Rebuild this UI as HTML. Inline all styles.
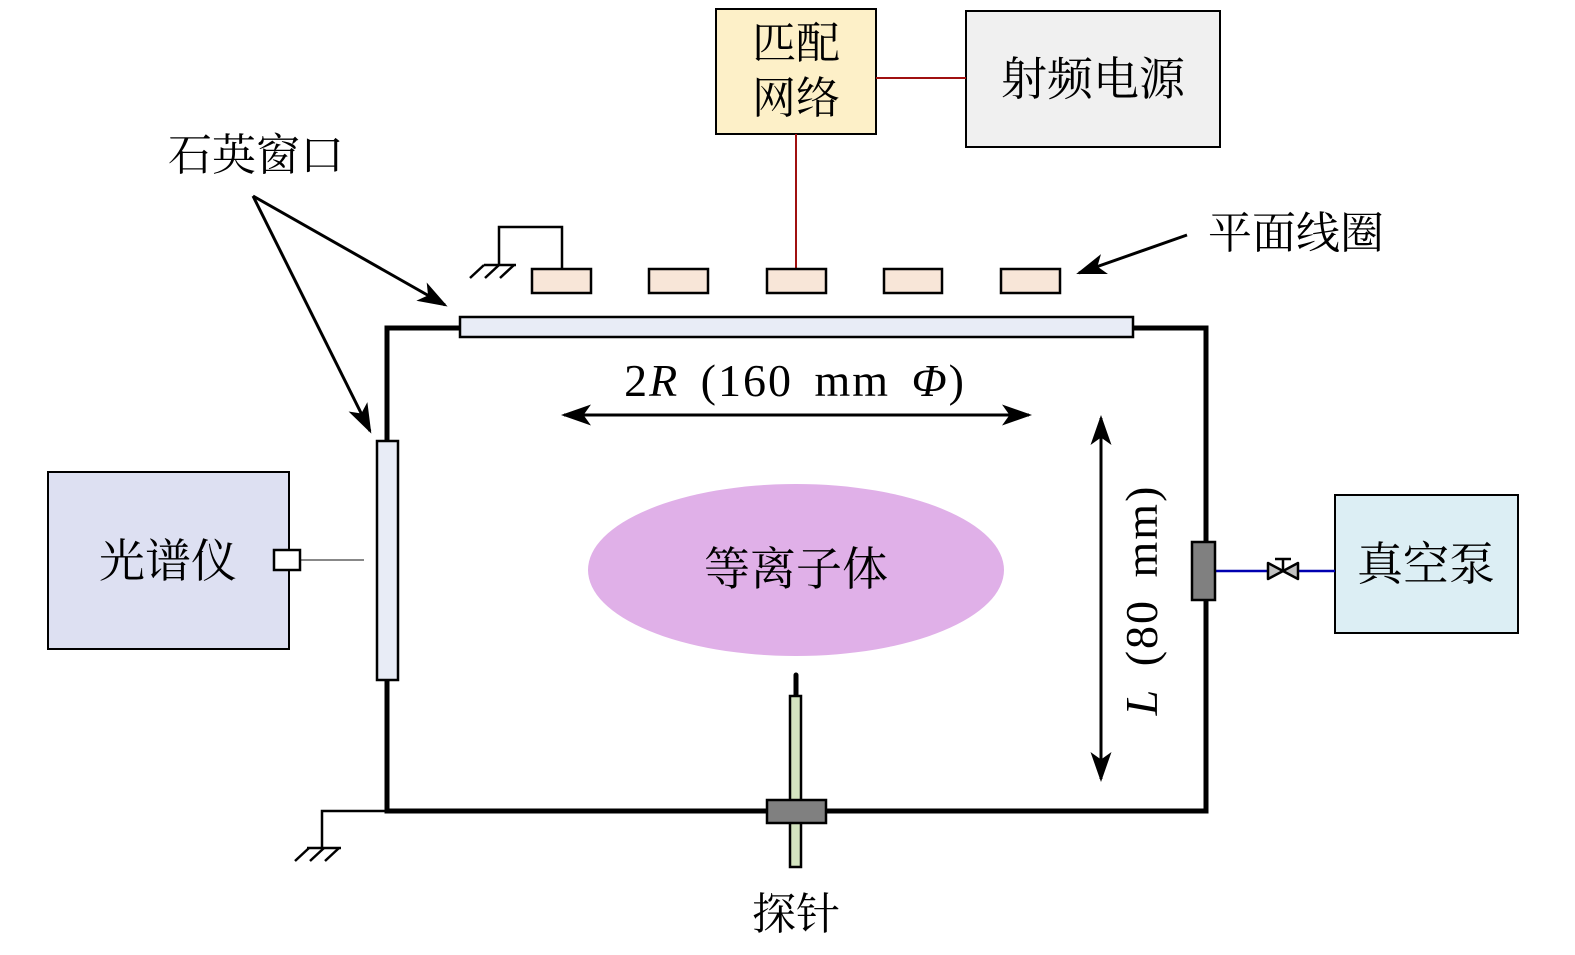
<!DOCTYPE html>
<html><head><meta charset="utf-8"><style>
html,body{margin:0;padding:0;background:#fff;}
svg{display:block;}
.cj{font-family:"Liberation Serif","Noto Serif CJK SC",serif;}
</style></head><body>
<svg width="1575" height="955" viewBox="0 0 1575 955" xmlns="http://www.w3.org/2000/svg">
<defs>
<marker id="ah2" viewBox="0 0 10 10" refX="9" refY="5" markerWidth="30" markerHeight="30" markerUnits="userSpaceOnUse" orient="auto-start-reverse">
<path d="M0,1.5 L10,5 L0,8.5 L2.5,5 Z" fill="#000"/></marker>
<marker id="ah3" viewBox="0 0 10 10" refX="9" refY="5" markerWidth="30" markerHeight="30" markerUnits="userSpaceOnUse" orient="auto">
<path d="M0,1.5 L10,5 L0,8.5 L2.5,5 Z" fill="#000"/></marker>
</defs>

<rect x="716" y="9" width="160" height="125" fill="#fdf0c8" stroke="#000" stroke-width="2"/>
<text x="796" y="58" class="cj" font-size="44" text-anchor="middle">匹配</text>
<text x="796" y="113" class="cj" font-size="44" text-anchor="middle">网络</text>
<rect x="966" y="11" width="254" height="136" fill="#f0f0f0" stroke="#000" stroke-width="2"/>
<text x="1093" y="95" class="cj" font-size="46" text-anchor="middle">射频电源</text>
<line x1="876" y1="78" x2="966" y2="78" stroke="#a01010" stroke-width="2"/>
<line x1="796" y1="134" x2="796" y2="269" stroke="#a01010" stroke-width="2"/>

<polyline points="562,269 562,227 499,227 499,265" fill="none" stroke="#000" stroke-width="2.5"/>
<line x1="484" y1="265" x2="516" y2="265" stroke="#000" stroke-width="2.5"/>
<line x1="484" y1="265" x2="470" y2="278" stroke="#000" stroke-width="2.5"/>
<line x1="499" y1="265" x2="485" y2="278" stroke="#000" stroke-width="2.5"/>
<line x1="514" y1="265" x2="500" y2="278" stroke="#000" stroke-width="2.5"/>

<g fill="#f8e6d8" stroke="#000" stroke-width="2.5">
<rect x="532" y="269" width="59" height="24"/>
<rect x="649" y="269" width="59" height="24"/>
<rect x="767" y="269" width="59" height="24"/>
<rect x="884" y="269" width="58" height="24"/>
<rect x="1001" y="269" width="59" height="24"/>
</g>

<rect x="387" y="328" width="819" height="483" fill="none" stroke="#000" stroke-width="5"/>
<rect x="460" y="317" width="673" height="20" fill="#e8ecf6" stroke="#000" stroke-width="2.5"/>
<rect x="377" y="441" width="21" height="239" fill="#e8ecf6" stroke="#000" stroke-width="2.5"/>

<polyline points="387,811 322,811 322,848" fill="none" stroke="#000" stroke-width="2.5"/>
<line x1="307" y1="848" x2="341" y2="848" stroke="#000" stroke-width="2.5"/>
<line x1="309" y1="848" x2="295" y2="861" stroke="#000" stroke-width="2.5"/>
<line x1="324" y1="848" x2="310" y2="861" stroke="#000" stroke-width="2.5"/>
<line x1="339" y1="848" x2="325" y2="861" stroke="#000" stroke-width="2.5"/>

<rect x="48" y="472" width="241" height="177" fill="#dde0f2" stroke="#000" stroke-width="2"/>
<text x="168" y="577" class="cj" font-size="46" text-anchor="middle">光谱仪</text>
<line x1="300" y1="560" x2="364" y2="560" stroke="#888" stroke-width="2"/>
<rect x="274" y="550" width="26" height="20" fill="#fff" stroke="#000" stroke-width="2.5"/>

<rect x="1335" y="495" width="183" height="138" fill="#dceef4" stroke="#000" stroke-width="2"/>
<text x="1426" y="580" class="cj" font-size="46" text-anchor="middle">真空泵</text>
<line x1="1215" y1="571" x2="1335" y2="571" stroke="#0000b0" stroke-width="2.5"/>
<rect x="1192" y="542" width="23" height="58" fill="#808080" stroke="#000" stroke-width="2.5"/>
<path d="M1268,563 L1298,579 L1298,563 L1268,579 Z" fill="#c0c0c0" stroke="#000" stroke-width="2.5" stroke-linejoin="round"/>
<line x1="1283" y1="571" x2="1283" y2="559" stroke="#000" stroke-width="2.5"/>
<line x1="1275" y1="559" x2="1291" y2="559" stroke="#000" stroke-width="2.5"/>

<ellipse cx="796" cy="570" rx="208" ry="86" fill="#e0b0e8"/>
<text x="796" y="585" class="cj" font-size="46" text-anchor="middle">等离子体</text>

<line x1="796" y1="675" x2="796" y2="697" stroke="#000" stroke-width="5" stroke-linecap="round"/>
<rect x="790" y="696" width="11" height="171" fill="#d4e4c0" stroke="#000" stroke-width="2.5"/>
<rect x="767" y="800" width="59" height="23" fill="#808080" stroke="#000" stroke-width="2.5"/>
<text x="796" y="929" class="cj" font-size="44" text-anchor="middle">探针</text>

<text x="256" y="170" class="cj" font-size="44" text-anchor="middle">石英窗口</text>
<line x1="253" y1="196" x2="445" y2="305" stroke="#000" stroke-width="3" marker-end="url(#ah3)"/>
<line x1="253" y1="196" x2="370" y2="431" stroke="#000" stroke-width="3" marker-end="url(#ah3)"/>
<text x="1296" y="248" class="cj" font-size="44" text-anchor="middle">平面线圈</text>
<line x1="1187" y1="235" x2="1079" y2="273" stroke="#000" stroke-width="3" marker-end="url(#ah3)"/>

<line x1="564" y1="415" x2="1029" y2="415" stroke="#000" stroke-width="3" marker-start="url(#ah2)" marker-end="url(#ah2)"/>
<text x="795" y="396" font-family="Liberation Serif, serif" font-size="46" text-anchor="middle" letter-spacing="2" word-spacing="8">2<tspan font-style="italic">R</tspan> (160 mm <tspan font-style="italic">Φ</tspan>)</text>
<line x1="1101" y1="418" x2="1101" y2="779" stroke="#000" stroke-width="3" marker-start="url(#ah2)" marker-end="url(#ah2)"/>
<text transform="translate(1157,600) rotate(-90)" font-family="Liberation Serif, serif" font-size="46" text-anchor="middle" letter-spacing="2" word-spacing="8"><tspan font-style="italic">L</tspan> (80 mm)</text>
</svg>
</body></html>
